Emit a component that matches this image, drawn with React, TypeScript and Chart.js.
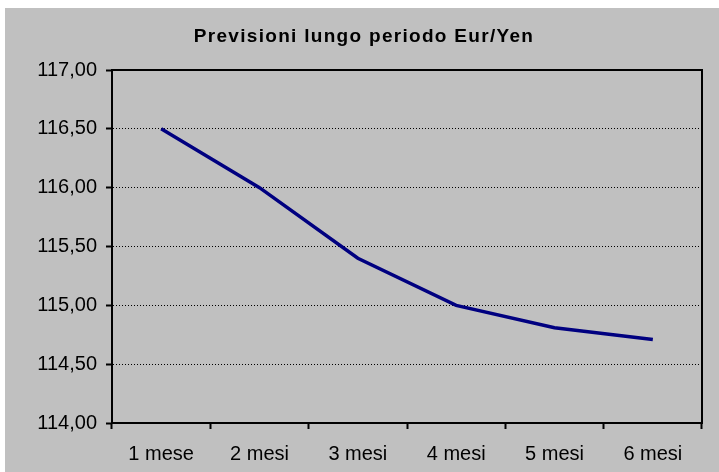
import React, { useEffect, useRef } from "react";
import { Chart, registerables } from "chart.js";

Chart.register(...registerables);

const categories = ["1 mese", "2 mesi", "3 mesi", "4 mesi", "5 mesi", "6 mesi"];
const values = [116.5, 116.0, 115.4, 115.0, 114.81, 114.71];
const titleText = "Previsioni lungo periodo Eur/Yen";
const yMin = 114;
const yMax = 117;
const yStep = 0.5;

const FONT = "'Liberation Sans', Arial, sans-serif";

const frame = {
  id: "frame",
  beforeDatasetsDraw(chart: any) {
    const { ctx, chartArea } = chart;
    ctx.save();
    ctx.strokeStyle = "#000";
    ctx.lineWidth = 2;
    ctx.setLineDash([]);
    ctx.strokeRect(chartArea.left, chartArea.top, chartArea.right - chartArea.left, chartArea.bottom - chartArea.top);
    ctx.restore();
  },
};

const spacedTitle = {
  id: "spacedTitle",
  afterDraw(chart: any, _args: any, opts: any) {
    const { ctx } = chart;
    ctx.save();
    (ctx as any).letterSpacing = "1.3px";
    ctx.font = `bold 19px ${FONT}`;
    ctx.fillStyle = "#000";
    ctx.textAlign = "center";
    ctx.textBaseline = "alphabetic";
    ctx.fillText(opts.text, chart.width / 2 + 2, 34);
    (ctx as any).letterSpacing = "0px";
    ctx.restore();
  },
};

export default function App() {
  const ref = useRef<HTMLCanvasElement>(null);
  useEffect(() => {
    const chart = new Chart(ref.current!, {
      type: "line",
      data: {
        labels: categories,
        datasets: [
          {
            data: values,
            borderColor: "#000080",
            borderWidth: 3.5,
            pointRadius: 0,
            tension: 0,
            fill: false,
          },
        ],
      },
      options: {
        animation: false,
        responsive: false,
        maintainAspectRatio: false,
        layout: { padding: { left: 0, right: 17, top: 62, bottom: 0 } },
        plugins: {
          legend: { display: false },
          tooltip: { enabled: false },
          title: { display: false },
          spacedTitle: { text: titleText },
        } as any,
        scales: {
          x: {
            offset: true,
            grid: {
              offset: true,
              drawOnChartArea: false,
              drawTicks: true,
              tickLength: 6,
              tickColor: "#000",
              tickWidth: 2,
              tickBorderDash: [1, 0],
            },
            border: { display: true, color: "#000", width: 2 },
            ticks: { color: "#000", font: { family: FONT, size: 20 }, padding: 13, maxRotation: 0 },
            afterFit(scale: any) {
              scale.height = 49;
            },
          },
          y: {
            min: yMin,
            max: yMax,
            grid: {
              color: "#000",
              lineWidth: 1,
              tickLength: 6,
              tickColor: "#000",
              tickWidth: 2,
              tickBorderDash: [1, 0],
            },
            border: { display: true, color: "#000", width: 2, dash: [1, 2] },
            ticks: {
              stepSize: yStep,
              color: "#000",
              font: { family: FONT, size: 20 },
              padding: 9,
              callback: (v: any) => Number(v).toFixed(2).replace(".", ","),
            },
            afterFit(scale: any) {
              scale.width = 107;
            },
          },
        },
      },
      plugins: [frame, spacedTitle],
    });
    return () => chart.destroy();
  }, []);
  return (
    <div style={{ position: "fixed", left: 5, top: 8, width: 714, height: 464, background: "#c0c0c0" }}>
      <canvas ref={ref} width={714} height={464} style={{ display: "block" }} />
    </div>
  );
}
